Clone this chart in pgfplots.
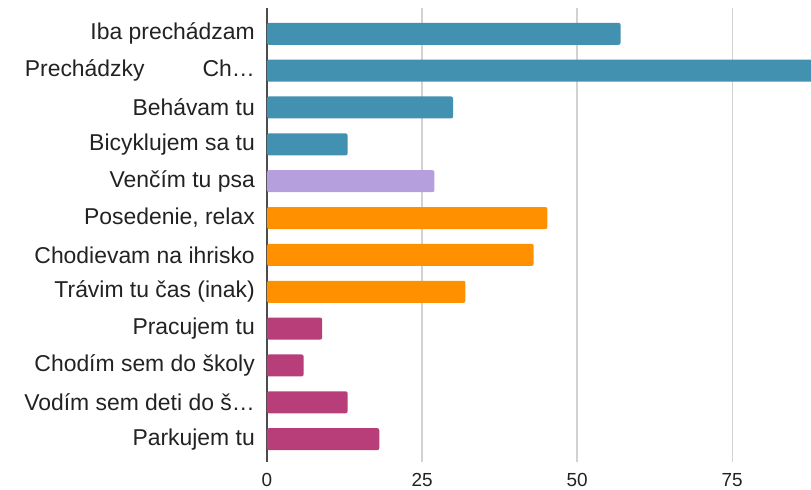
\documentclass[border=0pt]{standalone}
\usepackage{fontspec}
\setmainfont{Liberation Sans}
\usepackage{pgfplots}
\pgfplotsset{compat=1.18}
\usetikzlibrary{calc}
\definecolor{cteal}{RGB}{67,145,176}
\definecolor{clav}{RGB}{181,160,221}
\definecolor{corange}{RGB}{255,145,0}
\definecolor{cmag}{RGB}{184,62,122}
\definecolor{cgrid}{RGB}{210,210,210}
\definecolor{ctext}{RGB}{34,34,34}
\begin{document}
\begin{tikzpicture}
\begin{axis}[
  name=ax,
  scale only axis, width=544bp, height=454bp,
  xmin=0, xmax=87.7, ymin=0.3, ymax=12.62, y dir=reverse,
  xbar, bar width=22bp, bar shift=0pt,
  axis line style={draw=none},
  major tick length=0pt,
  xtick={25,50,75},
  extra x ticks={0},
  extra x tick style={grid style={draw=black!70, line width=1.3bp}},
  xmajorgrids, grid style={draw=cgrid, line width=1.3bp},
  ytick={1,2,3,4,5,6,7,8,9,10,11,12},
  yticklabels={Iba prechádzam, Prechádzky\hspace{58bp}Ch…, Behávam tu, Bicyklujem sa tu, Venčím tu psa, {Posedenie, relax}, Chodievam na ihrisko, Trávim tu čas (inak), Pracujem tu, Chodím sem do školy, Vodím sem deti do š…, Parkujem tu},
  yticklabel style={font=\fontsize{23}{27}\selectfont, text=ctext, anchor=east, inner sep=0pt, xshift=-12bp},
  xticklabel style={font=\fontsize{19}{22}\selectfont, text=ctext, anchor=north, inner sep=0pt, yshift=-11bp},
  /pgf/number format/assume math mode=true,
]
\addplot[fill=cteal, draw=none, rounded corners=2bp] coordinates {(57,1) (95,2) (30,3) (13,4)};
\addplot[fill=clav, draw=none, rounded corners=2bp] coordinates {(27,5)};
\addplot[fill=corange, draw=none, rounded corners=2bp] coordinates {(45.2,6) (43,7) (32,8)};
\addplot[fill=cmag, draw=none, rounded corners=2bp] coordinates {(8.9,9) (5.9,10) (13,11) (18.1,12)};
\end{axis}
\pgfresetboundingbox
\path[use as bounding box] ($(ax.south west)+(-267bp,-28bp)$) rectangle ($(ax.north east)+(0,8bp)$);
\end{tikzpicture}
\end{document}
